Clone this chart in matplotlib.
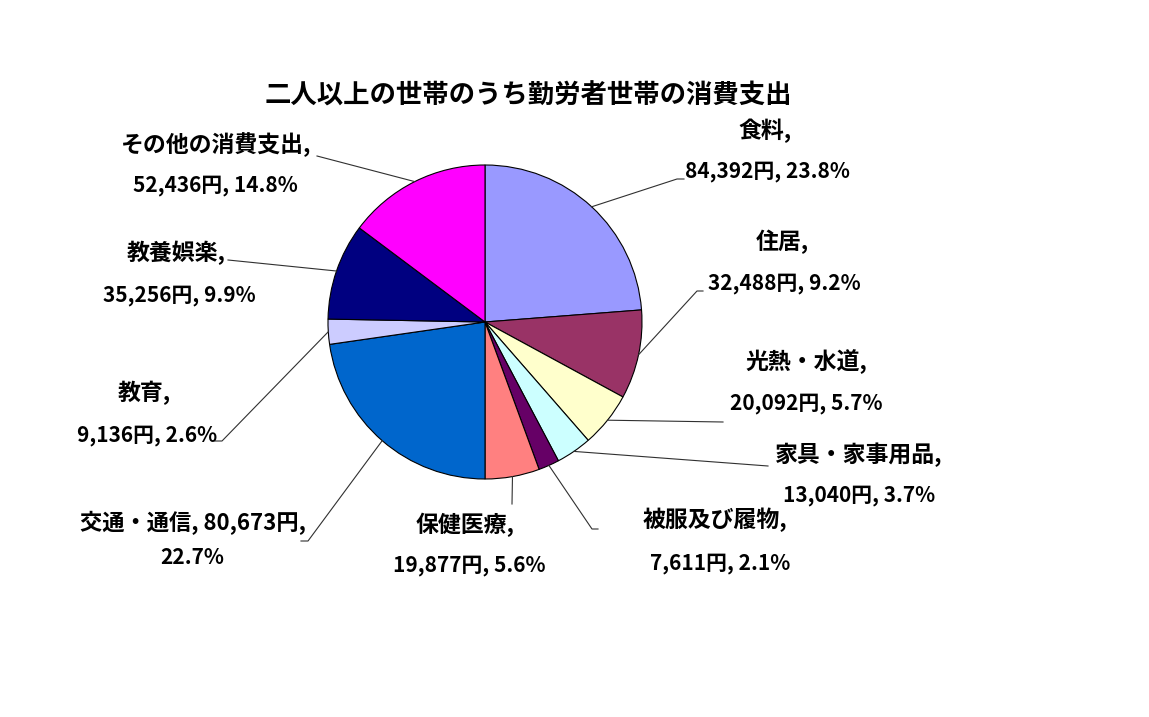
import numpy as np
import matplotlib
matplotlib.use('Agg')
import matplotlib.pyplot as plt

plt.rcParams['font.family'] = ['Noto Sans CJK JP', 'DejaVu Sans']

# data
title = '二人以上の世帯のうち勤労者世帯の消費支出'
names = ['食料', '住居', '光熱・水道', '家具・家事用品', '被服及び履物',
         '保健医療', '交通・通信', '教育', '教養娯楽', 'その他の消費支出']
yen = [84392, 32488, 20092, 13040, 7611, 19877, 80673, 9136, 35256, 52436]
colors = ['#9999FF', '#993366', '#FFFFCC', '#CCFFFF', '#660066',
          '#FF8080', '#0066CC', '#CCCCFF', '#000080', '#FF00FF']

W, H = 1149, 717
fig = plt.figure(figsize=(W / 100, H / 100), dpi=100)
ax = fig.add_axes([0, 0, 1, 1])

cx, cy, r = 485, H - 322, 157
wedges, _ = ax.pie(yen, colors=colors, startangle=90, counterclock=False,
                   center=(cx, cy), radius=r,
                   wedgeprops=dict(edgecolor='black', linewidth=0.8))
ax.set_xlim(0, W)
ax.set_ylim(0, H)
ax.set_aspect('equal')
ax.axis('off')

total = sum(yen)
pct = [v / total * 100 for v in yen]

# label layout (pixel coords, y from top): line1 pos, line2 pos, elbow, tail end
line1_pos = [(765, 131), (782, 242), (806, 362), (859, 455), (715, 520),
             (465, 525), (193, 523), (144, 393), (176, 253), (216, 145)]
line2_pos = [(767, 172), (784, 283), (806, 404), (859, 495), (720, 563),
             (469, 566), (192, 558), (147, 436), (179, 295), (215, 185)]
elbows = [(677, 179), (697, 291), (723, 422), (768, 466), (592, 529),
          (512, 504), (308, 541), (222, 441), (228, 260), (317, 156)]
tails = [(684, 179), (703, 291), (723, 422), (768, 466), (598, 529),
         (512, 504), (301, 541), (215, 441), (228, 260), (317, 156)]

for i, w in enumerate(wedges):
    mid = np.deg2rad((w.theta1 + w.theta2) / 2)
    x0, y0 = cx + r * np.cos(mid), cy + r * np.sin(mid)
    ex, ey = elbows[i]
    tx, ty = tails[i]
    ax.plot([x0, ex, tx], [y0, H - ey, H - ty], color='#303030', lw=0.8)

    if names[i] == '交通・通信':
        t1 = f'{names[i]}, {yen[i]:,}円,'
        t2 = f'{pct[i]:.1f}%'
        s1 = 16
    else:
        t1 = f'{names[i]},'
        t2 = f'{yen[i]:,}円, {pct[i]:.1f}%'
        s1 = 16.5
    ax.text(line1_pos[i][0], H - line1_pos[i][1], t1, ha='center', va='center',
            fontsize=s1, fontweight='bold')
    ax.text(line2_pos[i][0], H - line2_pos[i][1], t2, ha='center', va='center',
            fontsize=15, fontweight='bold')

ax.text(528, H - 96, title, ha='center', va='center', fontsize=19, fontweight='bold')

fig.savefig('out.png', dpi=100)
